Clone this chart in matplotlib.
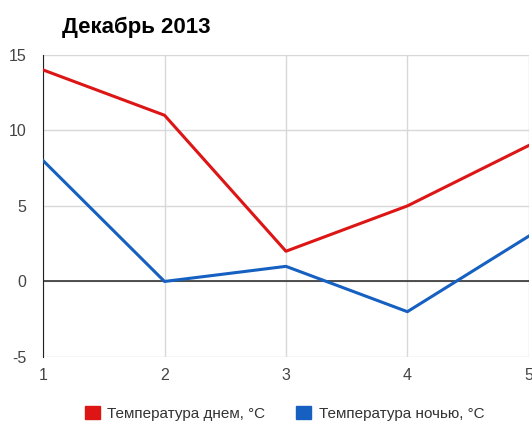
import matplotlib.pyplot as plt
from matplotlib.patches import Patch

plt.rcParams['font.family'] = ['Liberation Sans', 'DejaVu Sans']
plt.rcParams['axes.unicode_minus'] = False

x = [1, 2, 3, 4, 5]
day = [14, 11, 2, 5, 9]
night = [8, 0, 1, -2, 3]
labels = ["Температура днем, °C", "Температура ночью, °C"]
colors = ["#dd1515", "#1560c0"]

fig = plt.figure(figsize=(5.32, 4.25), dpi=100)
ax = fig.add_axes([0.081, 0.16, 0.913, 0.711])

ax.plot(x, day, color=colors[0], lw=2.2, zorder=3)
ax.plot(x, night, color=colors[1], lw=2.2, zorder=3)
ax.axhline(0, color="#333333", lw=1.2, zorder=2)

ax.set_xlim(1, 5)
ax.set_ylim(-5, 15)
ax.set_xticks(x)
ax.set_yticks([-5, 0, 5, 10, 15])
ax.grid(True, color="#d8d8d8", lw=1)
ax.set_axisbelow(True)
for s in ["top", "right", "bottom"]:
    ax.spines[s].set_visible(False)
ax.spines["left"].set_color("#222222")
ax.tick_params(length=0, labelsize=11.5, labelcolor="#444444")
ax.tick_params(axis="y", pad=12)
ax.tick_params(axis="x", pad=8)

fig.text(0.117, 0.935, "Декабрь 2013", fontsize=16, fontweight="bold", va="center")

handles = [Patch(color=c) for c in colors]
fig.legend(handles, labels, loc="center", bbox_to_anchor=(0.535, 0.028), ncol=2,
           frameon=False, fontsize=11, handlelength=1.0, handleheight=1.0,
           handletextpad=0.5, columnspacing=2.0, labelcolor="#333333")

fig.savefig("out.png", dpi=100)
